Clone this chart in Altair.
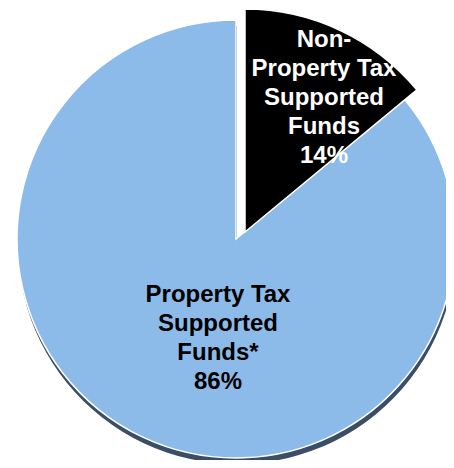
import math
import altair as alt
import pandas as pd

categories = ["Non-Property Tax Supported Funds", "Property Tax Supported Funds*"]
values = [14, 86]
label_lines = [["Non-", "Property Tax", "Supported", "Funds"],
               ["Property Tax", "Supported", "Funds*"]]
colors = ["#000000", "#8DBBE9"]

df = pd.DataFrame({"category": categories, "value": values})
df["end"] = df["value"].cumsum()
df["start"] = df["end"] - df["value"]
df["label"] = ["\n".join(l + [f"{v}%"]) for l, v in zip(label_lines, values)]

theta_scale = alt.Scale(domain=[0, 100], range=[0, 2 * math.pi])
base = alt.Chart(df)

def slice_layer(cat, color, cx, cy, r, stroke=None):
    kw = dict(radius=r, fill=color)
    if stroke:
        kw.update(stroke=stroke, strokeWidth=1.5)
    return base.transform_filter(alt.datum.category == cat).mark_arc(**kw).encode(
        theta=alt.Theta("start:Q", scale=theta_scale),
        theta2="end:Q",
        x=alt.value(cx),
        y=alt.value(cy),
    )

shadow = slice_layer(categories[1], "#3b4e66", 229, 237, 219)
blue = slice_layer(categories[1], colors[1], 228, 231, 219, stroke="white")
black = slice_layer(categories[0], colors[0], 237, 224, 223, stroke="white")

def text_layer(cat, color, x, y):
    return base.transform_filter(alt.datum.category == cat).mark_text(
        font="Liberation Sans", fontWeight="bold", fontSize=24, lineHeight=29,
        lineBreak="\n", align="center", baseline="middle", color=color,
    ).encode(text="label:N", x=alt.value(x), y=alt.value(y))

t1 = text_layer(categories[0], "white", 316, 32)
t2 = text_layer(categories[1], "black", 210, 287)

chart = alt.layer(shadow, blue, black, t1, t2).properties(
    width=438, height=452, padding=0, background="white",
    autosize=alt.AutoSizeParams(type="none"),
).configure_view(stroke=None)

chart.save("out.html", embed_options={"renderer": "svg", "actions": False})
